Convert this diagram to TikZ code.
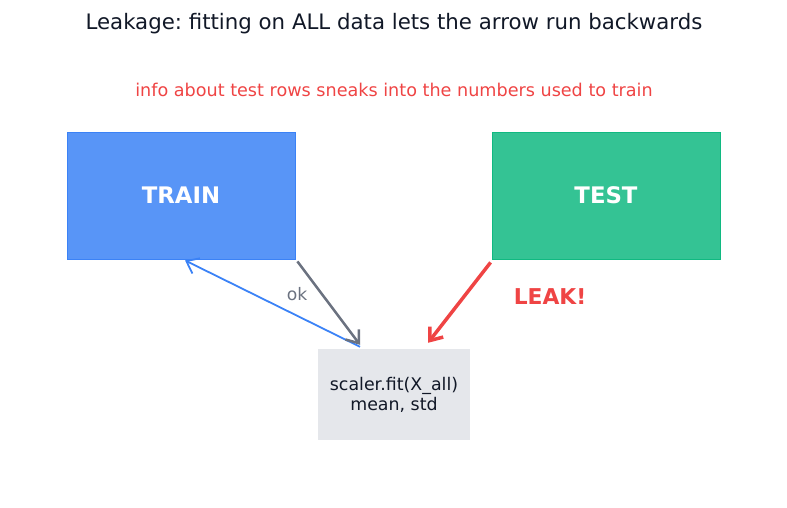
\documentclass[tikz,border=0pt]{standalone}
\usepackage{fontspec}
\setmainfont{DejaVu Sans}
\usepackage{xcolor}
\usepackage{tikz}
\usetikzlibrary{arrows.meta}
\definecolor{leakblue}{RGB}{59,130,246}
\definecolor{leakgreen}{RGB}{16,185,129}
\definecolor{leakred}{RGB}{239,68,68}
\definecolor{leakgray}{RGB}{107,114,128}
\definecolor{leakpanel}{RGB}{229,231,235}
\definecolor{leakink}{RGB}{17,24,39}
\frenchspacing

\tikzset{
  setbox/.style={draw=#1,fill=#1,fill opacity=0.85,text opacity=1,thick,
    minimum width=228pt,minimum height=127pt,inner sep=0pt,text=white,
    font=\fontsize{22.8}{27}\selectfont\bfseries},
  fitbox/.style={fill=leakpanel,minimum width=152pt,minimum height=91pt,
    inner sep=0pt,align=center,text=leakink,font=\fontsize{17.4}{20}\selectfont},
  flow/.style={line width=#1,-{Straight Barb[length=11pt,width=17pt]}}
}

\begin{document}
\begin{tikzpicture}[x=1pt,y=-1pt]
  \useasboundingbox (0,0) rectangle (787,508);
  \node[text=leakink,font=\fontsize{21.3}{25}\selectfont] (title) at (394,24) {Leakage: fitting on ALL data lets the arrow run backwards};
  \node[text=leakred,font=\fontsize{17.6}{21}\selectfont] (sub) at (394,90) {info about test rows sneaks into the numbers used to train};
  \node[setbox=leakblue] (train) at (181,195.5) {TRAIN};
  \node[setbox=leakgreen] (test) at (606,195.5) {TEST};
  \node[fitbox] (scaler) at (394,394.5) {scaler.fit(X\_all)\\mean, std};
  % the one honest arrow and the two that leak
  \draw[leakblue,flow=1.8pt] ([xshift=-34pt,yshift=2pt]scaler.north) -- ([xshift=4pt,yshift=-1pt]train.south);
  \draw[leakgray,flow=2.5pt] ([xshift=2pt,yshift=-2pt]train.south east) -- ([xshift=-34pt,yshift=4pt]scaler.north);
  \draw[leakred,flow=3.5pt] ([xshift=-1pt,yshift=-3pt]test.south west) -- ([xshift=34pt,yshift=6pt]scaler.north);
  \node[text=leakgray,font=\fontsize{17.2}{20}\selectfont] (ok) at (297,294) {ok};
  \node[text=leakred,font=\fontsize{21.8}{26}\selectfont\bfseries] (leak) at (550,297) {LEAK!};
\end{tikzpicture}
\end{document}
